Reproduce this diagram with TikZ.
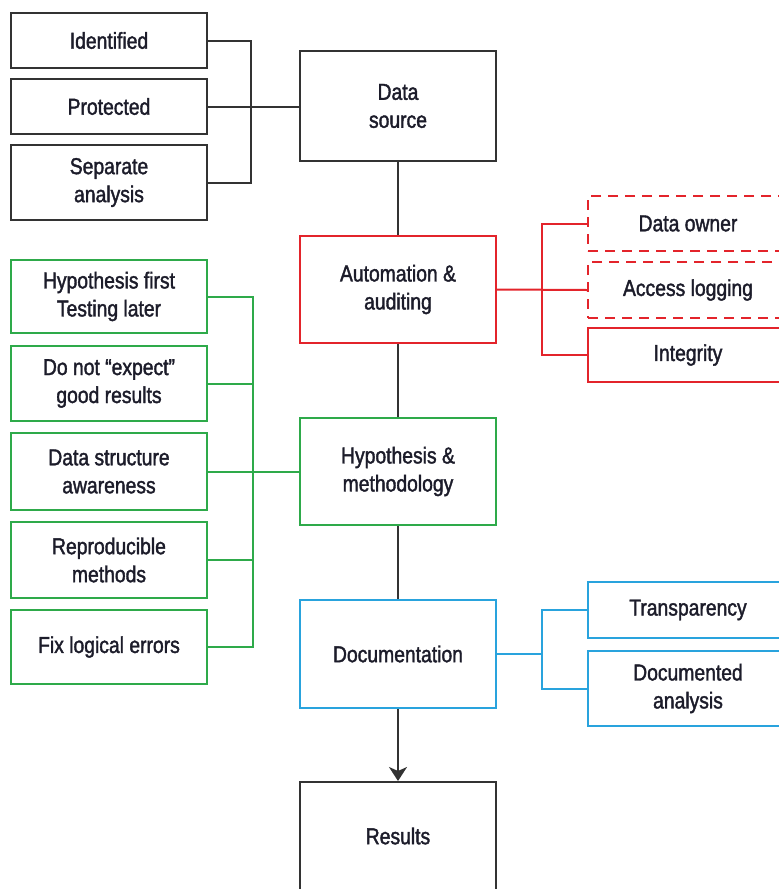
\documentclass[tikz,border=0pt]{standalone}
\usepackage{fontspec}
\setmainfont{Liberation Sans}[FakeStretch=0.84, FakeBold=1.6]
\usetikzlibrary{positioning, arrows.meta, calc}

\definecolor{stepred}{HTML}{E3242B}
\definecolor{stepgreen}{HTML}{2EAA4A}
\definecolor{stepblue}{HTML}{29A3DD}
\definecolor{boxline}{HTML}{333333}
\definecolor{inktext}{HTML}{1C1C2A}

\begin{document}
\begin{tikzpicture}[
    x=0.5pt, y=-0.5pt,
    line width=1pt,
    box/.style={rectangle, draw=boxline, minimum width=98pt, align=center, fill=white, text=inktext, inner sep=2pt, font=\fontsize{11.5}{14}\selectfont},
    sidebox/.style={box, minimum width=100pt},
    redbox/.style={sidebox, draw=stepred},
    owned/.style={redbox, dashed, dash pattern=on 5pt off 3.5pt},
    greenbox/.style={box, draw=stepgreen},
    bluebox/.style={box, draw=stepblue},
    bluesidebox/.style={sidebox, draw=stepblue},
    arrow/.style={-{Stealth[length=7pt, width=9pt, inset=2pt]}, draw=boxline}
]
\clip (0,0) rectangle (779,889);

% Main chain
\node[box, minimum height=55pt] (datasrc) at (398,106) {Data\\source};
\node[box, draw=stepred, minimum height=53.5pt] (auto) at (398,289.5) {Automation \&\\auditing};
\node[greenbox, minimum height=53.5pt] (hyp) at (398,471.5) {Hypothesis \&\\methodology};
\node[bluebox, minimum height=54pt] (doc) at (398,654) {Documentation};
\node[box, minimum height=54pt] (res) at (398,836) {Results};

% Data source details
\node[box, minimum height=27.5pt] (ident) at (109,40.5) {Identified};
\node[box, minimum height=27.5pt] (prot) at (109,106.5) {Protected};
\node[box, minimum height=37.5pt] (sep) at (109,182.5) {Separate\\analysis};

% Automation details
\node[owned, minimum height=27.5pt] (owner) at (688,223.5) {Data owner};
\node[owned, minimum height=28pt] (access) at (688,290) {Access logging};
\node[redbox, minimum height=27pt] (integ) at (688,355) {Integrity};

% Hypothesis details
\node[greenbox, minimum height=36.5pt] (hypfirst) at (109,296.5) {Hypothesis first\\Testing later};
\node[greenbox, minimum height=37.5pt] (donot) at (109,383.5) {Do not “expect”\\good results};
\node[greenbox, minimum height=38.5pt] (dstruct) at (109,471.5) {Data structure\\awareness};
\node[greenbox, minimum height=38pt] (repro) at (109,560) {Reproducible\\methods};
\node[greenbox, minimum height=37pt] (fixlog) at (109,647) {Fix logical errors};

% Documentation details
\node[bluesidebox, minimum height=28pt] (transp) at (688,610) {Transparency};
\node[bluesidebox, minimum height=37.5pt] (docan) at (688,688.5) {Documented\\analysis};

% Junctions
\coordinate (jblack) at (251,106.5);
\coordinate (jred) at (542,290);
\coordinate (jgreen) at (253,471.5);
\coordinate (jblue) at (542,654);

% Connections
\draw[boxline] (prot.east) -- (prot.east -| datasrc.west);
\draw[boxline] (ident.east) -| (jblack);
\draw[boxline] (sep.east) -| (jblack);

\draw[stepred] (auto.east) -- (access.west);
\draw[stepred] (owner.west) -| (jred);
\draw[stepred] (integ.west) -| (jred);

\draw[stepgreen] (dstruct.east) -- (hyp.west);
\draw[stepgreen] (hypfirst.east) -| (jgreen);
\draw[stepgreen] (donot.east) -| (jgreen);
\draw[stepgreen] (repro.east) -| (jgreen);
\draw[stepgreen] (fixlog.east) -| (jgreen);

\draw[stepblue] (doc.east) -- (jblue);
\draw[stepblue] (transp.west) -| (jblue);
\draw[stepblue] (docan.west) -| (jblue);

\draw[boxline] (datasrc) -- (auto);
\draw[boxline] (auto) -- (hyp);
\draw[boxline] (hyp) -- (doc);
\draw[arrow] (doc) -- (res);

\end{tikzpicture}
\end{document}
